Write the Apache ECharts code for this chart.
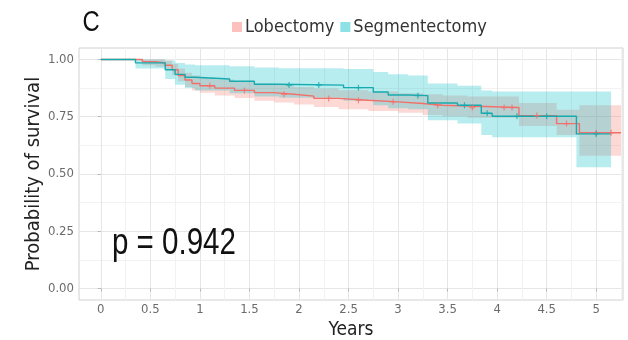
<!DOCTYPE html>
<html>
<head>
<meta charset="utf-8">
<script src="https://cdn.jsdelivr.net/npm/echarts@6/dist/echarts.min.js"></script>
<style>
  html, body { margin: 0; padding: 0; background: #ffffff; }
  #chart { width: 628px; height: 340px; }
</style>
</head>
<body>
<div id="chart"></div>
<script>
// Kaplan-Meier survival by surgical procedure, with 95% confidence bands.
const groupNames = ['Lobectomy', 'Segmentectomy'];

// Lobectomy: step times (years), survival estimate, lower and upper CI
const lobeTime  = [0, 0.42, 0.55, 0.65, 0.72, 0.78, 0.85, 0.92, 1.0, 1.15, 1.35, 1.55, 1.75, 1.95, 2.15, 2.4, 2.7, 3.0, 3.25, 3.45, 3.7, 4.22, 4.6, 4.83, 5.25];
const lobeSurv  = [1, 0.99, 0.985, 0.975, 0.955, 0.93, 0.91, 0.895, 0.885, 0.875, 0.865, 0.855, 0.848, 0.84, 0.83, 0.822, 0.815, 0.808, 0.80, 0.797, 0.79, 0.755, 0.72, 0.68, 0.68];
const lobeLower = [1, 0.975, 0.968, 0.955, 0.93, 0.905, 0.88, 0.865, 0.855, 0.843, 0.832, 0.82, 0.812, 0.803, 0.792, 0.783, 0.775, 0.767, 0.758, 0.752, 0.745, 0.71, 0.67, 0.58, 0.58];
const lobeUpper = [1, 1, 1, 0.995, 0.98, 0.96, 0.942, 0.93, 0.92, 0.912, 0.903, 0.895, 0.888, 0.88, 0.873, 0.866, 0.86, 0.853, 0.848, 0.843, 0.838, 0.81, 0.78, 0.80, 0.80];
const lobeCensor = [1.1, 1.45, 1.85, 2.3, 2.6, 2.95, 3.4, 3.75, 4.07, 4.15, 4.4, 4.7, 5.0, 5.15];

// Segmentectomy: step times (years), survival estimate, lower and upper CI
const segTime  = [0, 0.35, 0.65, 0.75, 0.85, 0.95, 1.3, 1.55, 1.8, 2.45, 2.75, 2.9, 3.1, 3.3, 3.6, 3.84, 3.95, 4.8, 5.15];
const segSurv  = [1, 0.985, 0.955, 0.935, 0.922, 0.915, 0.905, 0.892, 0.888, 0.877, 0.858, 0.845, 0.842, 0.81, 0.80, 0.765, 0.752, 0.675, 0.675];
const segLower = [1, 0.96, 0.915, 0.89, 0.875, 0.865, 0.853, 0.838, 0.833, 0.82, 0.80, 0.787, 0.783, 0.735, 0.72, 0.67, 0.66, 0.53, 0.53];
const segUpper = [1, 1, 0.995, 0.985, 0.978, 0.975, 0.97, 0.965, 0.962, 0.958, 0.945, 0.935, 0.93, 0.895, 0.885, 0.865, 0.86, 0.86, 0.86];
const segCensor = [1.9, 2.2, 2.6, 3.2, 3.67, 3.9, 4.2, 4.5, 5.0];

// Axis ticks
const xTicks = [0, 0.5, 1, 1.5, 2, 2.5, 3, 3.5, 4, 4.5, 5];
const xMinorTicks = [0.25, 0.75, 1.25, 1.75, 2.25, 2.75, 3.25, 3.75, 4.25, 4.75, 5.25];
const yTicks = [0, 0.25, 0.5, 0.75, 1];
const yMinorTicks = [0.125, 0.375, 0.625, 0.875];

const pValueLabel = 'p = 0.942';
const panelLetter = 'C';

const colors = { Lobectomy: '#F2706A', Segmentectomy: '#17AAAE' };
const bandColors = { Lobectomy: 'rgba(248,118,109,0.28)', Segmentectomy: 'rgba(0,191,196,0.28)' };
const keyColors = { Lobectomy: 'rgba(248,118,109,0.45)', Segmentectomy: 'rgba(0,191,196,0.45)' };
const FONT = "'DejaVu Sans Condensed', 'Liberation Sans', Arial, sans-serif";
const BIG_FONT = "'Liberation Sans', Arial, sans-serif";

const pairs = (xs, ys) => xs.map((x, i) => [x, ys[i]]);
// survival value of a step curve at time t
function stepValue(times, surv, t) {
  let v = surv[0];
  for (let i = 0; i < times.length; i++) { if (times[i] <= t) v = surv[i]; }
  return v;
}

// Confidence band drawn as one stepped polygon through the axis scales
function bandRenderer(time, lower, upper, fill) {
  return function (params, api) {
    if (params.dataIndex !== 0) return null;
    const n = time.length;
    const pts = [];
    for (let i = 0; i < n; i++) {
      const x1 = i + 1 < n ? time[i + 1] : time[i];
      pts.push(api.coord([time[i], upper[i]]), api.coord([x1, upper[i]]));
    }
    for (let i = n - 1; i >= 0; i--) {
      const x1 = i + 1 < n ? time[i + 1] : time[i];
      pts.push(api.coord([x1, lower[i]]), api.coord([time[i], lower[i]]));
    }
    return { type: 'polygon', shape: { points: pts }, style: { fill: fill } };
  };
}

function groupSeries(name, time, surv, lower, upper, censor) {
  return [
    {
      type: 'custom', name: name + ' CI', silent: true, z: 1,
      data: time.map((t, i) => [t, lower[i], upper[i]]),
      encode: { x: 0, y: [1, 2] },
      renderItem: bandRenderer(time, lower, upper, bandColors[name])
    },
    {
      type: 'line', name: name, step: 'end', data: pairs(time, surv),
      showSymbol: false, color: colors[name],
      lineStyle: { color: colors[name], width: 1.4 }, z: 3
    },
    {
      type: 'scatter', name: name + ' censor',
      data: censor.map(t => [t, stepValue(time, surv, t)]),
      symbol: 'path://M4,0H6V4H10V6H6V10H4V6H0V4H4Z', symbolSize: 6,
      itemStyle: { color: colors[name] }, silent: true, z: 4
    }
  ];
}

const gridLine = '#E6E6E6';
const minorLine = '#F2F2F2';
const tickLabel = { color: '#6b6b6b', fontSize: 13, fontFamily: FONT };

const chart = echarts.init(document.getElementById('chart'), null, { renderer: 'canvas' });
chart.setOption({
  animation: false,
  backgroundColor: '#ffffff',
  grid: {
    left: 79, right: 5, top: 48, bottom: 40, outerBoundsMode: 'none',
    show: true, borderColor: '#D0D0D0', borderWidth: 1
  },
  legend: {
    data: groupNames.map(n => ({ name: n, icon: 'rect', itemStyle: { color: keyColors[n] } })),
    left: 227, top: 13, itemWidth: 10, itemHeight: 10, itemGap: 6,
    textStyle: { fontSize: 18, color: '#333333', fontFamily: FONT, padding: [0, 0, 0, -2] }
  },
  xAxis: [
    {
      type: 'value', min: -0.22, max: 5.27,
      name: 'Years', nameLocation: 'middle', nameGap: 18,
      nameTextStyle: { fontSize: 19, color: '#222222', fontFamily: FONT },
      axisLine: { show: false },
      axisTick: { show: true, customValues: xTicks, length: 3, lineStyle: { color: '#B8B8B8' } },
      axisLabel: { customValues: xTicks, margin: 3, ...tickLabel },
      splitLine: { show: true, lineStyle: { color: gridLine, width: 1 } }
    },
    {
      type: 'value', min: -0.22, max: 5.27, position: 'bottom',
      axisLine: { show: false },
      axisTick: { show: false, customValues: xMinorTicks },
      axisLabel: { show: false, customValues: xMinorTicks },
      splitLine: { show: true, lineStyle: { color: minorLine, width: 1 } }
    }
  ],
  yAxis: [
    {
      type: 'value', min: -0.05, max: 1.05,
      name: 'Probability of survival', nameLocation: 'middle', nameGap: 35, nameRotate: 90,
      nameMoveOverlap: false,
      nameTextStyle: { fontSize: 20, color: '#222222', fontFamily: FONT },
      axisLine: { show: false },
      axisTick: { show: true, customValues: yTicks, length: 3, lineStyle: { color: '#B8B8B8' } },
      axisLabel: { customValues: yTicks, margin: 5, formatter: v => v.toFixed(2), ...tickLabel },
      splitLine: { show: true, lineStyle: { color: gridLine, width: 1 } }
    },
    {
      type: 'value', min: -0.05, max: 1.05, position: 'left',
      axisLine: { show: false },
      axisTick: { show: false, customValues: yMinorTicks },
      axisLabel: { show: false, customValues: yMinorTicks },
      splitLine: { show: true, lineStyle: { color: minorLine, width: 1 } }
    }
  ],
  graphic: [
    { type: 'text', x: 91, y: 23, scaleX: 0.82, z: 10,
      style: { text: panelLetter, font: '29px ' + BIG_FONT, fill: '#111111', textAlign: 'center', textVerticalAlign: 'middle' } },
    { type: 'text', x: 112, y: 244, scaleX: 0.82, z: 10,
      style: { text: pValueLabel, font: '36px ' + BIG_FONT, fill: '#111111', textAlign: 'left', textVerticalAlign: 'middle' } }
  ],
  series: [
    ...groupSeries('Lobectomy', lobeTime, lobeSurv, lobeLower, lobeUpper, lobeCensor),
    ...groupSeries('Segmentectomy', segTime, segSurv, segLower, segUpper, segCensor)
  ]
});
</script>
</body>
</html>
